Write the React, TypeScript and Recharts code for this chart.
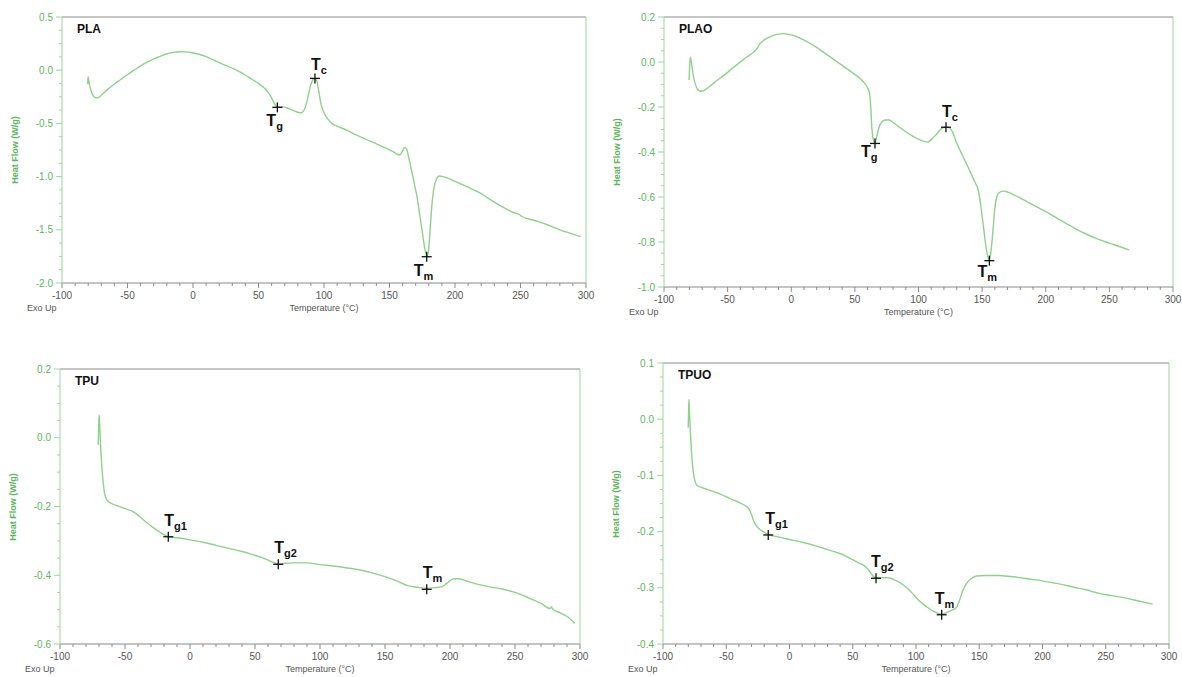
import React from "react";
import {
  ComposedChart,
  Line,
  Scatter,
  XAxis,
  YAxis,
  ReferenceLine,
} from "recharts";

// temperature axis, shared by all four DSC runs
const tempTicks = [-100, -50, 0, 50, 100, 150, 200, 250, 300];

// heat flow tick labels per sample
const plaHeatTicks = [-2.0, -1.5, -1.0, -0.5, 0.0, 0.5];
const plaoHeatTicks = [-1.0, -0.8, -0.6, -0.4, -0.2, 0.0, 0.2];
const tpuHeatTicks = [-0.6, -0.4, -0.2, 0.0, 0.2];
const tpuoHeatTicks = [-0.4, -0.3, -0.2, -0.1, 0.0, 0.1];

// curves: [temperature °C, heat flow W/g]
const plaCurve = [
  [-80.4, -0.13], [-80.1, -0.06], [-79, -0.14], [-77, -0.22], [-75, -0.255], [-73, -0.26],
  [-70, -0.235], [-65, -0.18], [-60, -0.13], [-55, -0.085], [-50, -0.04], [-45, 0.0],
  [-40, 0.04], [-35, 0.075], [-30, 0.105], [-25, 0.13], [-20, 0.155], [-15, 0.168],
  [-10, 0.174], [-5, 0.172], [0, 0.162], [5, 0.148], [10, 0.128], [15, 0.1], [20, 0.072],
  [25, 0.045], [30, 0.02], [35, -0.01], [40, -0.045], [45, -0.085], [50, -0.125],
  [55, -0.175], [58, -0.22], [60, -0.26], [62, -0.31], [64.4, -0.345], [68, -0.345],
  [72, -0.355], [76, -0.375], [80, -0.395], [83, -0.4], [85, -0.37], [87, -0.29],
  [89, -0.18], [91, -0.1], [93, -0.077], [94.5, -0.1], [96, -0.2], [98, -0.33],
  [100, -0.4], [103, -0.46], [106, -0.5], [110, -0.525], [117, -0.562], [125, -0.61],
  [135, -0.665], [145, -0.72], [152, -0.76], [156, -0.79], [158, -0.795], [160, -0.755],
  [161.5, -0.725], [163, -0.74], [165, -0.84], [167, -0.95], [169, -1.07], [171, -1.19],
  [173, -1.35], [175, -1.52], [177, -1.68], [178.4, -1.75], [179.5, -1.72], [181, -1.5],
  [182.5, -1.25], [184, -1.1], [186, -1.02], [188, -0.995], [191, -1.0], [200, -1.045],
  [210, -1.1], [220, -1.16], [230, -1.24], [240, -1.31], [245, -1.34], [249, -1.355],
  [251, -1.375], [260, -1.41], [270, -1.45], [280, -1.5], [290, -1.54], [296, -1.565],
];

const plaoCurve = [
  [-80.3, -0.08], [-80, -0.04], [-79.3, 0.022], [-78.5, 0.0], [-77, -0.06], [-75, -0.105],
  [-73, -0.125], [-71, -0.13], [-68, -0.125], [-65, -0.112], [-60, -0.09], [-55, -0.068],
  [-50, -0.046], [-45, -0.022], [-40, 0.0], [-35, 0.022], [-30, 0.042], [-27, 0.058],
  [-25, 0.078], [-22, 0.095], [-18, 0.108], [-14, 0.118], [-10, 0.124], [-6, 0.126],
  [-2, 0.123], [2, 0.117], [6, 0.108], [10, 0.097], [15, 0.082], [20, 0.065], [25, 0.045],
  [30, 0.025], [35, 0.005], [40, -0.015], [45, -0.035], [50, -0.055], [55, -0.078],
  [58, -0.097], [60, -0.115], [61.5, -0.14], [62.5, -0.2], [63.3, -0.29], [64.5, -0.345],
  [65.8, -0.362], [67, -0.335], [69, -0.29], [71, -0.268], [74, -0.258], [77, -0.258],
  [80, -0.268], [85, -0.29], [90, -0.31], [95, -0.328], [100, -0.343], [104, -0.353],
  [107, -0.356], [110, -0.345], [114, -0.322], [117, -0.302], [120, -0.29], [121.6, -0.289],
  [124, -0.292], [127, -0.315], [130, -0.36], [135, -0.42], [140, -0.48], [144, -0.53],
  [147, -0.57], [149, -0.64], [151, -0.73], [153, -0.82], [155, -0.875], [155.7, -0.883],
  [157, -0.84], [158.5, -0.75], [160, -0.65], [161.5, -0.6], [163.5, -0.58], [167, -0.574],
  [170, -0.578], [180, -0.605], [190, -0.635], [200, -0.665], [210, -0.698], [220, -0.73],
  [230, -0.76], [240, -0.785], [250, -0.805], [258, -0.82], [265.5, -0.835],
];

const tpuCurve = [
  [-70.6, -0.02], [-70.3, 0.03], [-70, 0.066], [-69.5, 0.04], [-68.8, -0.02], [-68, -0.075],
  [-67, -0.12], [-66, -0.155], [-65, -0.172], [-63, -0.185], [-60, -0.192], [-55, -0.199],
  [-50, -0.206], [-45, -0.213], [-41, -0.222], [-37, -0.235], [-33, -0.248], [-28, -0.262],
  [-23, -0.275], [-19, -0.284], [-16.5, -0.288], [-10, -0.291], [0, -0.297], [10, -0.304],
  [20, -0.313], [30, -0.322], [40, -0.331], [48, -0.34], [55, -0.348], [60, -0.356],
  [65, -0.364], [68, -0.368], [72, -0.366], [80, -0.364], [90, -0.364], [100, -0.369],
  [110, -0.373], [120, -0.378], [130, -0.384], [140, -0.393], [150, -0.404], [160, -0.418],
  [168, -0.431], [175, -0.435], [182, -0.438], [188, -0.436], [194, -0.433], [198, -0.422],
  [203, -0.41], [206, -0.41], [212, -0.416], [220, -0.425], [230, -0.433], [240, -0.44],
  [250, -0.45], [260, -0.465], [270, -0.482], [277, -0.497], [278, -0.492], [279, -0.498],
  [285, -0.51], [290, -0.52], [296, -0.54],
];

const tpuoCurve = [
  [-80.1, -0.015], [-79.8, 0.01], [-79.5, 0.035], [-79, 0.01], [-78.2, -0.03], [-77.3, -0.065],
  [-76, -0.095], [-74.5, -0.112], [-73, -0.118], [-70, -0.121], [-65, -0.125], [-60, -0.129],
  [-55, -0.133], [-50, -0.138], [-45, -0.143], [-40, -0.148], [-35, -0.154], [-32, -0.16],
  [-30, -0.17], [-28, -0.183], [-25, -0.193], [-21, -0.2], [-16.8, -0.205], [-10, -0.209],
  [0, -0.214], [10, -0.219], [20, -0.225], [30, -0.232], [40, -0.239], [45, -0.244],
  [50, -0.25], [55, -0.256], [60, -0.262], [63, -0.27], [66, -0.279], [68.4, -0.282],
  [72, -0.282], [78, -0.282], [84, -0.287], [90, -0.295], [96, -0.307], [102, -0.322],
  [108, -0.333], [114, -0.342], [120.3, -0.347], [126, -0.342], [132, -0.335], [134, -0.325],
  [137, -0.305], [140, -0.292], [144, -0.283], [148, -0.279], [155, -0.278], [165, -0.278],
  [175, -0.28], [185, -0.283], [195, -0.286], [205, -0.29], [215, -0.294], [225, -0.299],
  [235, -0.304], [245, -0.31], [255, -0.314], [265, -0.318], [275, -0.323], [287, -0.329],
];

// transitions marked on each curve (T with subscript)
const plaEvents = [
  { sub: "g", t: 64.4, h: -0.349 },
  { sub: "c", t: 93.1, h: -0.077 },
  { sub: "m", t: 178.4, h: -1.753 },
];
const plaoEvents = [
  { sub: "g", t: 65.8, h: -0.362 },
  { sub: "c", t: 121.6, h: -0.29 },
  { sub: "m", t: 155.7, h: -0.883 },
];
const tpuEvents = [
  { sub: "g1", t: -16.7, h: -0.288 },
  { sub: "g2", t: 67.9, h: -0.368 },
  { sub: "m", t: 182.1, h: -0.441 },
];
const tpuoEvents = [
  { sub: "g1", t: -16.8, h: -0.206 },
  { sub: "g2", t: 68.4, h: -0.283 },
  { sub: "m", t: 120.3, h: -0.348 },
];

const toRows = (curve: number[][]) => curve.map(([t, h]) => ({ t, h }));

// fill in minor ticks between the labelled ones
const withMinor = (majors: number[], parts: number) => {
  const out: number[] = [];
  for (let i = 0; i < majors.length - 1; i++) {
    const step = (majors[i + 1] - majors[i]) / parts;
    for (let k = 0; k < parts; k++) out.push(+(majors[i] + k * step).toFixed(4));
  }
  out.push(majors[majors.length - 1]);
  return out;
};

const isMajor = (v: number, majors: number[]) =>
  majors.some((m) => Math.abs(m - v) < 1e-6);

const LINE = "#8fd08c";
const AXIS_GREEN = "#9bd69b";
const LABEL_GREEN = "#5db55d";
const GREY = "#8a8a8a";

const panels = [
  {
    name: "PLA", left: 0, top: 0, plotW: 524, plotH: 266,
    yTicks: plaHeatTicks, curve: plaCurve, events: plaEvents,
    offsets: { g: [-11, 19], c: [-4, -8], m: [-13, 19] },
  },
  {
    name: "PLAO", left: 602, top: 0, plotW: 509, plotH: 270,
    yTicks: plaoHeatTicks, curve: plaoCurve, events: plaoEvents,
    offsets: { g: [-14, 14], c: [-4, -10], m: [-12, 16] },
  },
  {
    name: "TPU", left: -2, top: 352, plotW: 520, plotH: 275,
    yTicks: tpuHeatTicks, curve: tpuCurve, events: tpuEvents,
    offsets: { g1: [-4, -11], g2: [-4, -11], m: [-4, -11] },
  },
  {
    name: "TPUO", left: 601, top: 346, plotW: 506, plotH: 281,
    yTicks: tpuoHeatTicks, curve: tpuoCurve, events: tpuoEvents,
    offsets: { g1: [-3, -11], g2: [-5, -11], m: [-7, -11] },
  },
];

const PL = 62; // plot left inside each chart
const PT = 17; // plot top inside each chart
const PR = 11; // room right of the plot for the last tick label

function XTick(props: any) {
  const { x, y, payload } = props;
  const major = isMajor(payload.value, tempTicks);
  return (
    <g>
      <line x1={x} x2={x} y1={y} y2={y + (major ? 5 : 3)} stroke={GREY} />
      {major && (
        <text x={x} y={y + 16} textAnchor="middle" fontSize={10} fill="#555">
          {payload.value}
        </text>
      )}
    </g>
  );
}

function makeYTick(majors: number[]) {
  return (props: any) => {
    const { x, y, payload } = props;
    const major = isMajor(payload.value, majors);
    return (
      <g>
        <line x1={x - (major ? 6 : 3)} x2={x} y1={y} y2={y} stroke={AXIS_GREEN} />
        {major && (
          <text x={x - 9} y={y + 3.5} textAnchor="end" fontSize={10} fill={LABEL_GREEN}>
            {payload.value.toFixed(1)}
          </text>
        )}
      </g>
    );
  };
}

function makeMarker(offsets: Record<string, number[]>) {
  return (props: any) => {
    const { cx, cy, payload } = props;
    const [dx, dy] = offsets[payload.sub];
    return (
      <g>
        <line x1={cx - 5} x2={cx + 5} y1={cy} y2={cy} stroke="#111" strokeWidth={1.3} />
        <line x1={cx} x2={cx} y1={cy - 5} y2={cy + 5} stroke="#111" strokeWidth={1.3} />
        <text x={cx + dx} y={cy + dy} fontSize={16} fontWeight="bold" fill="#111">
          T
          <tspan fontSize={11} dy={4}>
            {payload.sub}
          </tspan>
        </text>
      </g>
    );
  };
}

function Panel({ p }: { p: (typeof panels)[number] }) {
  const width = PL + p.plotW + PR;
  const height = PT + p.plotH + 47;
  const yMin = p.yTicks[0];
  const yMax = p.yTicks[p.yTicks.length - 1];
  return (
    <div style={{ position: "absolute", left: p.left, top: p.top, width, height }}>
      <ComposedChart
        width={width}
        height={height}
        margin={{ top: PT, right: PR, left: 12, bottom: 17 }}
      >
        <XAxis
          type="number"
          dataKey="t"
          domain={[-100, 300]}
          ticks={withMinor(tempTicks, 5)}
          interval={0}
          tickSize={0}
          tickMargin={0}
          tickLine={false}
          tick={<XTick />}
          height={30}
          stroke={GREY}
          allowDataOverflow
        />
        <YAxis
          type="number"
          domain={[yMin, yMax]}
          ticks={withMinor(p.yTicks, 4)}
          interval={0}
          tickSize={0}
          tickMargin={0}
          tickLine={false}
          tick={makeYTick(p.yTicks)}
          width={50}
          stroke={AXIS_GREEN}
          allowDataOverflow
        />
        <ReferenceLine y={yMax} stroke={GREY} />
        <ReferenceLine x={300} stroke={AXIS_GREEN} />
        <Line
          data={toRows(p.curve)}
          dataKey="h"
          type="monotone"
          stroke={LINE}
          strokeWidth={1.4}
          dot={false}
          isAnimationActive={false}
        />
        <Scatter
          data={p.events}
          dataKey="h"
          shape={makeMarker(p.offsets)}
          isAnimationActive={false}
        />
      </ComposedChart>
      <div
        style={{
          position: "absolute", left: PL + 15, top: PT + 5,
          fontSize: 12, fontWeight: "bold", color: "#111",
        }}
      >
        {p.name}
      </div>
      <div
        style={{
          position: "absolute", left: PL - 47, top: PT + p.plotH / 2,
          transform: "translate(-50%, -50%) rotate(-90deg)",
          fontSize: 9, fontWeight: "bold", color: LABEL_GREEN, whiteSpace: "nowrap",
        }}
      >
        Heat Flow (W/g)
      </div>
      <div
        style={{
          position: "absolute", left: PL - 35, top: PT + p.plotH + 20,
          fontSize: 9, color: "#555",
        }}
      >
        Exo Up
      </div>
      <div
        style={{
          position: "absolute", left: PL + p.plotW / 2, top: PT + p.plotH + 20,
          transform: "translateX(-50%)", fontSize: 9, color: "#555", whiteSpace: "nowrap",
        }}
      >
        Temperature (°C)
      </div>
    </div>
  );
}

export default function App() {
  return (
    <div
      style={{
        position: "absolute", left: 0, top: 0, width: 1182, height: 677,
        background: "#fff", fontFamily: "'Liberation Sans', Arial, sans-serif",
        overflow: "hidden",
      }}
    >
      {panels.map((p) => (
        <Panel key={p.name} p={p} />
      ))}
    </div>
  );
}
